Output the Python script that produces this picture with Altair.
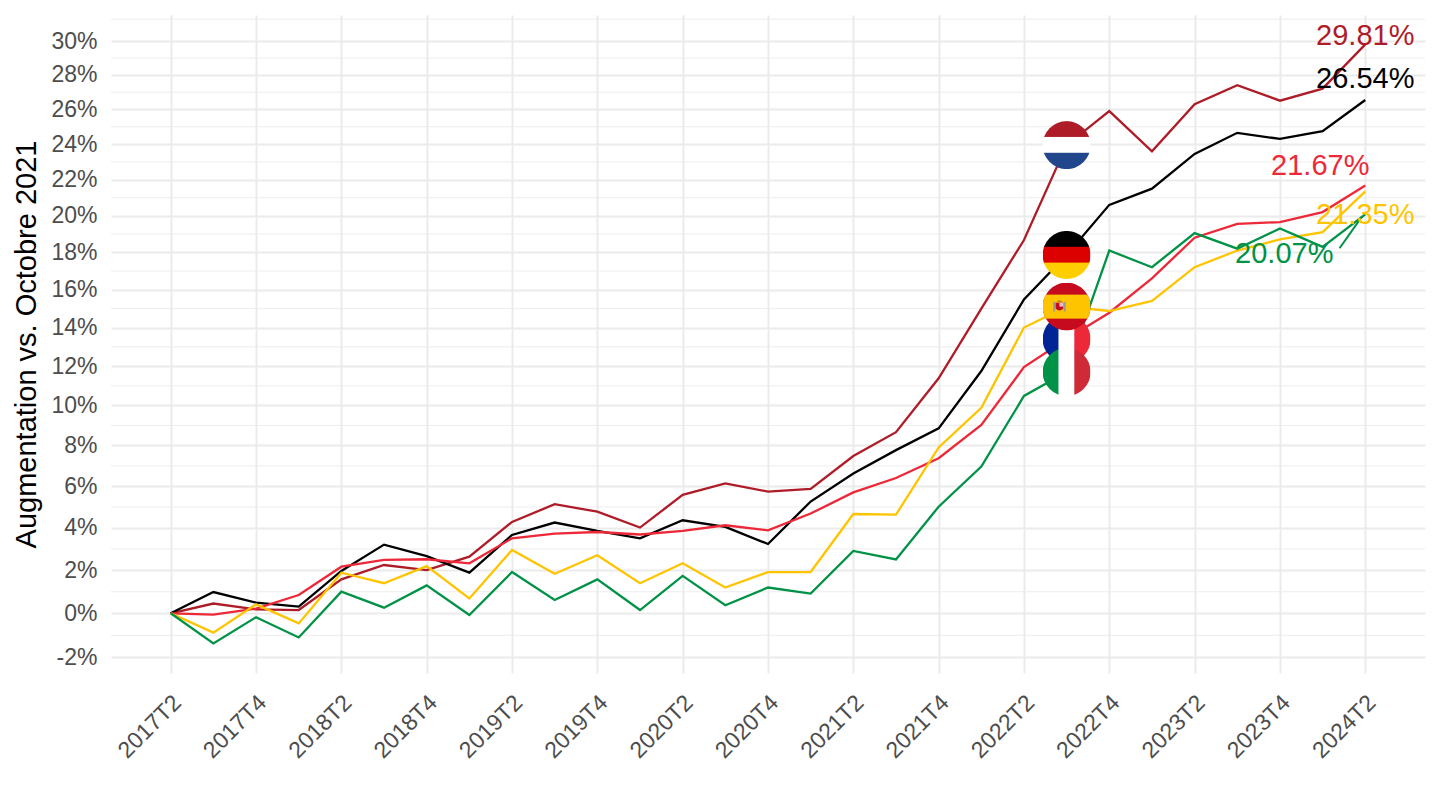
import base64
import json
import altair as alt
import pandas as pd

# ---------------- data ----------------
quarters = [
    "2017T2", "2017T3", "2017T4", "2018T1", "2018T2", "2018T3", "2018T4",
    "2019T1", "2019T2", "2019T3", "2019T4", "2020T1", "2020T2", "2020T3",
    "2020T4", "2021T1", "2021T2", "2021T3", "2021T4", "2022T1", "2022T2",
    "2022T3", "2022T4", "2023T1", "2023T2", "2023T3", "2023T4", "2024T1",
    "2024T2",
]
axis_quarters = quarters[::2]

countries = ["Pays-Bas", "Allemagne", "France", "Espagne", "Italie"]
colors = ["#AE1C28", "#000000", "#ED2939", "#FFC400", "#009246"]

# growth vs. first quarter, in %
nl = [0, 0.45, 0.18, 0.15, 1.57, 2.24, 2.00, 2.63, 4.28, 5.13, 4.77, 4.01, 5.58, 6.14,
      5.74, 5.87, 7.48, 8.66, 11.38, 15.0, 18.67, 23.95, 25.9, 23.6, 26.3, 27.4, 26.5,
      27.2, 29.81]
de = [0, 0.98, 0.49, 0.31, 1.96, 3.20, 2.66, 1.88, 3.66, 4.25, 3.85, 3.50, 4.36, 4.04,
      3.23, 5.26, 6.62, 7.77, 8.85, 11.75, 15.48, 17.86, 20.6, 21.5, 23.45, 24.65, 24.3,
      24.75, 26.54]
fr = [0, -0.06, 0.22, 0.84, 2.16, 2.48, 2.51, 2.32, 3.50, 3.72, 3.80, 3.68, 3.85, 4.12,
      3.88, 4.68, 5.70, 6.40, 7.37, 9.02, 11.95, 13.4, 14.78, 16.6, 18.8, 19.55, 19.65,
      20.2, 21.67]
es = [0, -0.88, 0.41, -0.46, 1.88, 1.39, 2.19, 0.68, 2.95, 1.83, 2.70, 1.39, 2.32, 1.19,
      1.91, 1.91, 4.66, 4.63, 7.90, 9.88, 14.0, 15.1, 14.87, 15.4, 17.2, 18.1, 18.7,
      19.1, 21.35]
it = [0, -1.37, -0.18, -1.10, 1.00, 0.26, 1.29, -0.08, 1.91, 0.61, 1.57, 0.15, 1.73, 0.37,
      1.19, 0.91, 2.90, 2.50, 5.01, 6.96, 10.48, 11.7, 18.1, 17.2, 19.05, 18.2, 19.3,
      18.3, 20.07]
series = [nl, de, fr, es, it]

y_ticks_pct = list(range(-2, 31, 2))
flag_quarter = "2022T3"

# ---------------- tables ----------------
rows = []
for c, vals in zip(countries, series):
    for k, (q, v) in enumerate(zip(quarters, vals)):
        rows.append({"pays": c, "trimestre": q, "t": k, "idx": 1 + v / 100.0})
df = pd.DataFrame(rows)

y_ticks = [1 + t / 100.0 for t in y_ticks_pct]
# minor breaks: midpoints in log space (ggplot style, incl. one beyond the top)
minor = [(a * b) ** 0.5 for a, b in zip(y_ticks[:-1], y_ticks[1:])]
minor.append((y_ticks[-1] * y_ticks[-1] * (y_ticks[1] / y_ticks[0])) ** 0.5)
minor_df = pd.DataFrame({"idx": minor})


def svg_uri(body):
    svg = ("<svg xmlns='http://www.w3.org/2000/svg' viewBox='0 0 100 100'>"
           "<defs><clipPath id='c'><circle cx='50' cy='50' r='50'/></clipPath></defs>"
           "<g clip-path='url(#c)'>" + body + "</g></svg>")
    return "data:image/svg+xml;base64," + base64.b64encode(svg.encode()).decode()


def hstripes(c1, c2, c3):
    return (f"<rect width='100' height='34' fill='{c1}'/>"
            f"<rect y='33' width='100' height='34' fill='{c2}'/>"
            f"<rect y='66' width='100' height='34' fill='{c3}'/>")


def vstripes(c1, c2, c3):
    return (f"<rect width='34' height='100' fill='{c1}'/>"
            f"<rect x='33' width='34' height='100' fill='{c2}'/>"
            f"<rect x='66' width='34' height='100' fill='{c3}'/>")


spain = ("<rect width='100' height='100' fill='#C60B1E'/>"
         "<rect y='25' width='100' height='50' fill='#FFC400'/>"
         "<rect x='22' y='40' width='4' height='20' fill='#9a9a9a'/>"
         "<rect x='44' y='40' width='4' height='20' fill='#9a9a9a'/>"
         "<path d='M27 42 h16 v12 q-8 8 -16 0 z' fill='#C60B1E'/>"
         "<rect x='35' y='42' width='8' height='8' fill='#e8c0c0'/>"
         "<path d='M28 41 q7 -9 14 0 z' fill='#b5862a'/>")

flag_svgs = {
    "Pays-Bas": svg_uri(hstripes("#AE1C28", "#FFFFFF", "#21468B")),
    "Allemagne": svg_uri(hstripes("#000000", "#DD0000", "#FFCE00")),
    "France": svg_uri(vstripes("#002395", "#FFFFFF", "#ED2939")),
    "Espagne": svg_uri(spain),
    "Italie": svg_uri(vstripes("#009246", "#FFFFFF", "#CE2B37")),
}
fi = quarters.index(flag_quarter)
flag_order = ["France", "Italie", "Espagne", "Allemagne", "Pays-Bas"]
flag_df = pd.DataFrame([
    {"pays": c, "t": fi,
     "idx": 1 + series[countries.index(c)][fi] / 100.0, "url": flag_svgs[c],
     "ordre": k}
    for k, c in enumerate(flag_order)
])

# ---------------- chart ----------------
FONT = "Liberation Sans"
n = len(quarters)
x_label_expr = json.dumps(quarters).replace('"', "'") + "[round(datum.value)]"
x_scale = alt.Scale(domain=[-1.4, n - 1 + 1.4], nice=False, zero=False)
x_enc = alt.X(
    "t:Q", title=None, scale=x_scale,
    axis=alt.Axis(values=[quarters.index(q) for q in axis_quarters],
                  labelExpr=x_label_expr, labelAngle=-45, labelAlign="right",
                  labelBaseline="top", labelFontSize=23, labelColor="#4D4D4D",
                  labelFont=FONT, labelPadding=18, labelOffset=-1.5, ticks=False,
                  tickSize=0, domain=False, grid=True, gridColor="#EBEBEB",
                  gridWidth=2, labelFlush=False, labelOverlap=False),
)
y_enc = alt.Y(
    "idx:Q", title="Augmentation vs. Octobre 2021",
    scale=alt.Scale(type="log", domain=[0.97300, 1.3157], nice=False),
    axis=alt.Axis(values=y_ticks,
                  labelExpr="(datum.value < 0.9999 ? '-' : '') + format(abs(datum.value - 1), '.0%')",
                  labelFontSize=23, labelColor="#4D4D4D", labelFont=FONT,
                  labelPadding=14, ticks=False, tickSize=0, domain=False,
                  grid=True, gridColor="#EBEBEB", gridWidth=1.8,
                  titleFontSize=29, titleFont=FONT, titleColor="#000000",
                  titleFontWeight="normal", titlePadding=9),
)

minor_grid = alt.Chart(minor_df).mark_rule(color="#EBEBEB", strokeWidth=0.9).encode(
    y=alt.Y("idx:Q")
)

lines = alt.Chart(df).mark_line(strokeWidth=2.3).encode(
    x=x_enc, y=y_enc,
    color=alt.Color("pays:N", scale=alt.Scale(domain=countries, range=colors), legend=None),
    detail="pays:N",
    order="t:Q",
)

flags = alt.Chart(flag_df).mark_image(width=48, height=48).encode(
    x=alt.X("t:Q"),
    y=alt.Y("idx:Q"),
    url="url:N",
    order="ordre:Q",
)

# end labels (offsets in px mimic the repelled positions)
label_offsets = {
    "Pays-Bas": (0, -8),
    "Allemagne": (0, -21),
    "France": (-45, -20),
    "Espagne": (0, 24),
    "Italie": (-81, 40),
}
labels = []
for c, col, vals in zip(countries, colors, series):
    d = pd.DataFrame([{"t": n - 1, "idx": 1 + vals[-1] / 100.0,
                       "txt": f"{vals[-1]:.2f}%"}])
    dx, dy = label_offsets[c]
    labels.append(
        alt.Chart(d).mark_text(fontSize=29, font=FONT, color=col, dx=dx, dy=dy,
                               align="center", baseline="middle").encode(
            x=alt.X("t:Q"), y=alt.Y("idx:Q"), text="txt:N")
    )

it_end = pd.DataFrame([{"t": n - 1, "idx": 1 + it[-1] / 100.0}])
segment = alt.Chart(it_end).mark_rule(
    color=colors[4], strokeWidth=2, xOffset=-25.7, x2Offset=-3.4, yOffset=33.8, y2Offset=2.2
).encode(
    x=alt.X("t:Q"), x2="t:Q",
    y=alt.Y("idx:Q"), y2="idx:Q",
)

chart = alt.layer(minor_grid, lines, flags, segment, *labels).properties(
    width=1314, height=658,
    padding={"left": 103, "top": 7, "right": 7, "bottom": 120},
    autosize=alt.AutoSizeParams(type="none"),
    background="#FFFFFF",
).configure_view(stroke=None)

chart.save("out.html", embed_options={"renderer": "svg", "actions": False})
